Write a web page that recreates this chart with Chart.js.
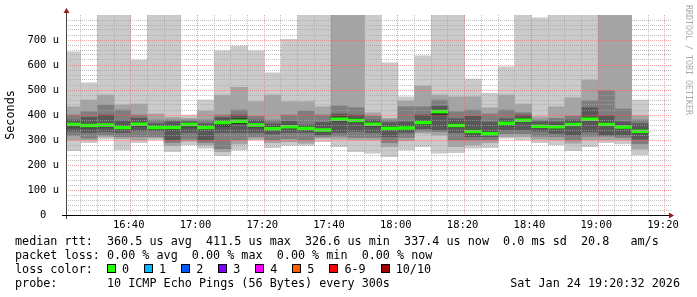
<!DOCTYPE html>
<html lang="en">
<head>
<meta charset="UTF-8">
<title>Smokeping latency</title>
<script src="https://cdn.jsdelivr.net/npm/chart.js"></script>
<style>
    html, body { margin: 0; padding: 0; background: #fff; }
    body { width: 697px; height: 297px; position: relative; overflow: hidden; }
    #chart { position: absolute; left: 0; top: 0; }
    .legend { position: absolute; left: 15px; top: 234px; font-family: "DejaVu Sans Mono", monospace; font-size: 11.75px; color: #000; }
    .legend div { height: 14px; line-height: 14px; white-space: pre; }
    .box { display: inline-block; width: 9px; height: 9px; box-sizing: border-box; border: 1px solid #000; margin-right: 6px; }
    .lbl { margin-right: 15px; }
</style>
</head>
<body>
<canvas id="chart" width="697" height="235"></canvas>
<div class="legend">
    <div id="line1"></div>
    <div id="line2"></div>
    <div id="line3"></div>
    <div id="line4"></div>
</div>
<script>
    // 5 minute slots (start time of each bar)
    const slots = ['16:20','16:25','16:30','16:35','16:40','16:45','16:50','16:55','17:00','17:05',
                   '17:10','17:15','17:20','17:25','17:30','17:35','17:40','17:45','17:50','17:55',
                   '18:00','18:05','18:10','18:15','18:20','18:25','18:30','18:35','18:40','18:45',
                   '18:50','18:55','19:00','19:05','19:10'];

    // sorted pings per slot, microseconds (850 = off the top of the graph)
    const ping1  = [257,289,303,260,289,300,253,280,267,237,260,300,269,277,277,293,273,253,247,233,260,273,247,249,267,269,307,300,289,280,257,273,289,284,240];
    const ping2  = [300,300,312,305,300,308,277,295,280,253,284,303,289,293,287,307,303,300,300,273,297,327,320,273,280,289,313,313,303,300,287,300,300,300,264];
    const ping3  = [318,307,320,313,313,313,290,303,290,265,300,313,300,305,300,313,315,310,310,290,310,335,333,300,300,300,325,325,315,313,300,315,315,310,285];
    const ping4  = [335,330,333,330,337,337,300,330,300,330,330,330,324,330,330,320,330,335,330,313,330,345,340,330,313,313,340,340,335,327,320,333,320,320,303];
    const ping5  = [352,348,352,343,355,343,340,352,343,355,365,352,338,345,338,333,375,370,355,338,340,362,400,350,326,318,360,372,348,346,355,376,355,345,328];
    const ping6  = [366,364,366,356,368,356,356,366,356,375,385,366,352,360,352,345,392,385,370,352,356,378,420,366,342,332,374,386,362,360,369,390,369,359,342];
    const ping7  = [380,391,400,377,387,365,373,373,365,390,400,380,365,375,360,370,404,400,380,369,373,400,435,385,395,372,385,400,373,373,380,429,397,373,365];
    const ping8  = [400,413,440,420,400,380,380,380,380,400,420,395,380,400,416,400,436,429,396,380,433,433,460,413,420,404,420,409,380,387,396,457,497,424,380];
    const ping9  = [433,460,480,440,444,404,391,387,416,480,511,453,480,453,453,433,850,850,409,387,456,516,480,473,473,429,480,444,393,433,469,540,850,850,397];
    const ping10 = [653,529,850,850,620,850,850,400,460,657,676,657,569,703,850,850,850,850,850,609,473,637,850,850,544,487,593,850,789,850,850,850,850,850,460];
    const median = [362,358,360,350,363,350,350,362,350,370,375,360,345,353,346,340,383,378,363,346,348,370,414,358,334,325,367,379,355,353,362,383,362,352,335];

    const timeLabels = ['16:40','17:00','17:20','17:40','18:00','18:20','18:40','19:00','19:20'];
    const yTickLabels = ['0','100 u','200 u','300 u','400 u','500 u','600 u','700 u'];

    const lossLabels = ['0','1','2','3','4','5','6-9','10/10'];
    const lossColors = ['#26ff00','#00b8ff','#0059ff','#7e00ff','#ff00fe','#ff5e00','#ff0000','#a10000'];

    const summary = [
        'median rtt:  360.5 us avg  411.5 us max  326.6 us min  337.4 us now  0.0 ms sd  20.8   am/s',
        'packet loss: 0.00 % avg  0.00 % max  0.00 % min  0.00 % now',
        'loss color:  ',
        'probe:       10 ICMP Echo Pings (56 Bytes) every 300s                 Sat Jan 24 19:20:32 2026'
    ];

    const smokeColors = ['#cacaca','#a4a4a4','#7e7e7e','#585858','#323232'];
    const toMin = (s) => { let p = s.split(':'); return +p[0] * 60 + +p[1]; };
    const mono = 'DejaVu Sans Mono';
    Chart.defaults.font.family = mono;

    let pings = [ping1, ping2, ping3, ping4, ping5, ping6, ping7, ping8, ping9, ping10];
    let datasets = [];
    for (let i = 0; i < 5; i++) {
        datasets.push({
            data: slots.map((s, k) => ({x: toMin(s) + 2.5, y: [pings[i][k], pings[9 - i][k]]})),
            backgroundColor: smokeColors[i],
            order: 10 - i
        });
    }
    datasets.push({
        data: slots.map((s, k) => ({x: toMin(s) + 2.5, y: [median[k] - 6, median[k] + 6]})),
        backgroundColor: lossColors[0],
        order: 0
    });

    // grid every 5 minutes, every 20 us
    let xGrid = [];
    for (let m = toMin('16:25'); m <= toMin('19:20'); m += 5) xGrid.push(m);
    let yGrid = [];
    for (let v = 0; v < 800; v += 20) yGrid.push(v);

    const minorCol = 'rgba(165,165,165,0.7)';
    const majorCol = 'rgba(235,100,100,0.6)';

    const axesPlugin = {
        id: 'axes',
        afterDraw(chart) {
            const {ctx, chartArea: a} = chart;
            ctx.save();
            ctx.lineWidth = 1;
            ctx.strokeStyle = '#444';
            ctx.beginPath();
            ctx.moveTo(a.left + 0.5, a.bottom + 4);
            ctx.lineTo(a.left + 0.5, a.top - 3);
            ctx.stroke();
            ctx.strokeStyle = '#000';
            ctx.beginPath();
            ctx.moveTo(a.left - 4, a.bottom + 0.5);
            ctx.lineTo(a.right - 3, a.bottom + 0.5);
            ctx.stroke();
            // arrows
            ctx.fillStyle = '#a01818';
            ctx.beginPath();
            ctx.moveTo(a.left + 0.5, a.top - 7);
            ctx.lineTo(a.left - 2.5, a.top - 2);
            ctx.lineTo(a.left + 3.5, a.top - 2);
            ctx.closePath();
            ctx.fill();
            ctx.beginPath();
            ctx.moveTo(a.right + 2, a.bottom + 0.5);
            ctx.lineTo(a.right - 3, a.bottom - 2.5);
            ctx.lineTo(a.right - 3, a.bottom + 3.5);
            ctx.closePath();
            ctx.fill();
            // watermark
            ctx.translate(688, 5);
            ctx.rotate(Math.PI / 2);
            ctx.fillStyle = '#aaaaaa';
            ctx.font = '8.3px "' + mono + '"';
            ctx.textBaseline = 'middle';
            ctx.textAlign = 'left';
            ctx.fillText('RRDTOOL / TOBI OETIKER', 0, 0);
            ctx.restore();
        }
    };

    new Chart(document.getElementById('chart'), {
        type: 'bar',
        data: {datasets: datasets},
        options: {
            responsive: false,
            animation: false,
            devicePixelRatio: 1,
            layout: {padding: {left: 0, right: 25, top: 15, bottom: 0}},
            plugins: {legend: {display: false}, tooltip: {enabled: false}},
            datasets: {bar: {grouped: false, barPercentage: 1, categoryPercentage: 1, borderWidth: 0, clip: 0}},
            scales: {
                x: {
                    type: 'linear',
                    min: 980.62,
                    max: 1162.1,
                    offset: false,
                    grid: {offset: false, drawTicks: false, z: 1, lineWidth: 1,
                        color: (c) => (c.tick && c.tick.value % 20 === 0) ? majorCol : minorCol},
                    border: {display: false, dash: [1, 1]},
                    afterBuildTicks: (s) => { s.ticks = xGrid.map(v => ({value: v})); },
                    afterFit: (s) => { s.height = 20; },
                    ticks: {
                        autoSkip: false, maxRotation: 0, minRotation: 0, padding: 4, labelOffset: -2,
                        color: '#000', font: {family: mono, size: 10.5},
                        callback: (v) => {
                            let l = timeLabels.find(t => toMin(t) === v);
                            return l ? l : '';
                        }
                    }
                },
                y: {
                    min: 0,
                    max: 800,
                    grid: {drawTicks: false, z: 1, lineWidth: 1,
                        color: (c) => (c.tick && c.tick.value % 100 === 0) ? majorCol : minorCol},
                    border: {display: false, dash: [1, 1]},
                    afterBuildTicks: (s) => { s.ticks = yGrid.map(v => ({value: v})); },
                    afterFit: (s) => { s.width = 66; },
                    title: {display: true, text: 'Seconds', color: '#000', font: {family: mono, size: 11.8}, padding: {top: 4, bottom: 0}},
                    ticks: {
                        autoSkip: false, padding: 7, color: '#000', font: {family: mono, size: 10.5},
                        callback: (v) => {
                            if (v % 100 !== 0) return '';
                            let l = yTickLabels[v / 100];
                            return l.indexOf('u') < 0 ? l + '  ' : l;
                        }
                    }
                }
            }
        },
        plugins: [axesPlugin]
    });

    // text block under the graph
    document.getElementById('line1').textContent = summary[0];
    document.getElementById('line2').textContent = summary[1];
    document.getElementById('line4').textContent = summary[3];
    let l3 = document.getElementById('line3');
    l3.appendChild(document.createTextNode(summary[2]));
    lossLabels.forEach((lab, i) => {
        let b = document.createElement('span');
        b.className = 'box';
        b.style.background = lossColors[i];
        l3.appendChild(b);
        let t = document.createElement('span');
        t.className = 'lbl';
        t.textContent = lab;
        l3.appendChild(t);
    });
</script>
</body>
</html>
